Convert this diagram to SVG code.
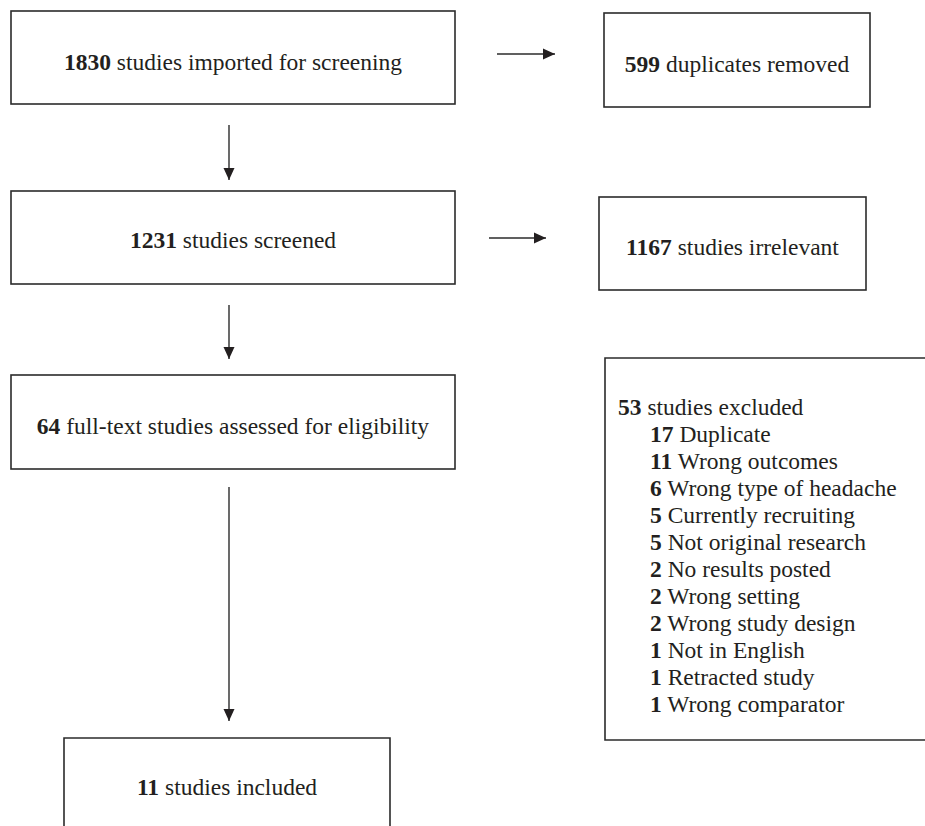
<svg xmlns="http://www.w3.org/2000/svg" width="925" height="826" viewBox="0 0 925 826">
<style>
.box{fill:none;stroke:#2b2b2b;stroke-width:1.6}
.line{stroke:#2b2b2b;stroke-width:1.4;fill:none}
text{font-family:"Liberation Serif","Times New Roman",serif;font-size:23.5px;fill:#231f20}
.c{text-anchor:middle}
.b{font-weight:bold}
</style>
<defs>
<marker id="ah" markerWidth="12" markerHeight="12" refX="12" refY="6" orient="auto" markerUnits="userSpaceOnUse">
<path d="M0,0.5 L12,6 L0,11.5 Z" fill="#231f20"/>
</marker>
</defs>
<rect width="925" height="826" fill="#ffffff"/>
<g id="connectors">
<line class="line" x1="497" y1="54" x2="555" y2="54" marker-end="url(#ah)"/>
<line class="line" x1="229" y1="125" x2="229" y2="180" marker-end="url(#ah)"/>
<line class="line" x1="489" y1="238" x2="546" y2="238" marker-end="url(#ah)"/>
<line class="line" x1="229" y1="305" x2="229" y2="359" marker-end="url(#ah)"/>
<line class="line" x1="229" y1="487" x2="229" y2="721" marker-end="url(#ah)"/>
</g>
<g id="imported">
<rect class="box" x="11" y="11" width="444" height="93"/>
<text class="c" x="233" y="70"><tspan class="b">1830</tspan> studies imported for screening</text>
</g>
<g id="duplicates">
<rect class="box" x="604" y="13" width="266" height="94"/>
<text class="c" x="737" y="72"><tspan class="b">599</tspan> duplicates removed</text>
</g>
<g id="screened">
<rect class="box" x="11" y="191" width="444" height="93"/>
<text class="c" x="233" y="248"><tspan class="b">1231</tspan> studies screened</text>
</g>
<g id="irrelevant">
<rect class="box" x="599" y="197" width="267" height="93"/>
<text class="c" x="732.5" y="255"><tspan class="b">1167</tspan> studies irrelevant</text>
</g>
<g id="fulltext">
<rect class="box" x="11" y="375" width="444" height="94"/>
<text class="c" x="233" y="434"><tspan class="b">64</tspan> full-text studies assessed for eligibility</text>
</g>
<g id="excluded">
<path class="box" d="M926,358 H605 V740 H926"/>
<text x="618" y="415"><tspan class="b">53</tspan> studies excluded</text>
<text x="650" y="442"><tspan class="b">17</tspan> Duplicate</text>
<text x="650" y="469"><tspan class="b">11</tspan> Wrong outcomes</text>
<text x="650" y="496"><tspan class="b">6</tspan> Wrong type of headache</text>
<text x="650" y="523"><tspan class="b">5</tspan> Currently recruiting</text>
<text x="650" y="550"><tspan class="b">5</tspan> Not original research</text>
<text x="650" y="577"><tspan class="b">2</tspan> No results posted</text>
<text x="650" y="604"><tspan class="b">2</tspan> Wrong setting</text>
<text x="650" y="631"><tspan class="b">2</tspan> Wrong study design</text>
<text x="650" y="658"><tspan class="b">1</tspan> Not in English</text>
<text x="650" y="685"><tspan class="b">1</tspan> Retracted study</text>
<text x="650" y="712"><tspan class="b">1</tspan> Wrong comparator</text>
</g>
<g id="included">
<path class="box" d="M64,827 V738 H390 V827"/>
<text class="c" x="227" y="795"><tspan class="b">11</tspan> studies included</text>
</g>
</svg>
